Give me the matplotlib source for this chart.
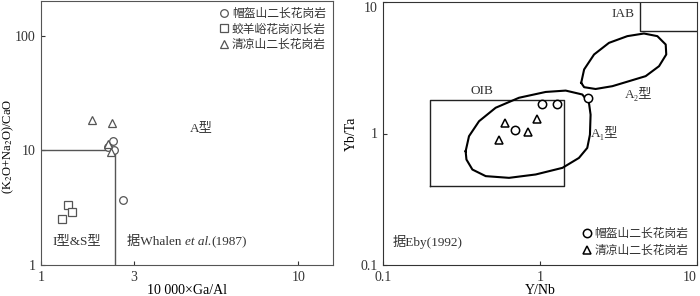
import matplotlib
matplotlib.use("Agg")
import matplotlib.pyplot as plt
from matplotlib.transforms import offset_copy

plt.rcParams['font.family'] = ['Liberation Serif', 'Noto Sans CJK SC', 'DejaVu Sans']
plt.rcParams['mathtext.fontset'] = 'stix'

# 左图: Whalen (1987) 判别图
maokui_x = [2.57, 2.47, 2.58, 2.76]
maokui_y = [12.0, 10.6, 10.0, 3.67]
jiaoyang_x = [1.85, 1.90, 1.77]
jiaoyang_y = [3.32, 2.87, 2.53]
qingliang_x = [2.21, 2.55, 2.48, 2.53]
qingliang_y = [18.5, 17.3, 11.3, 9.7]

# 右图: Eby (1992) 判别图
maokui2_x = [1.03, 1.29, 0.69, 2.03]
maokui2_y = [1.69, 1.68, 1.06, 1.87]
qingliang2_x = [0.60, 0.95, 0.84, 0.55]
qingliang2_y = [1.20, 1.28, 1.02, 0.89]

oib_x = [0.2, 1.42, 1.42, 0.2, 0.2]
oib_y = [0.40, 0.40, 1.81, 1.81, 0.40]
iab_x = [4.33, 4.33, 10.0]
iab_y = [10.0, 6.07, 6.07]

a1_x = [0.336, 0.353, 0.409, 0.522, 0.735, 1.087, 1.458, 1.86, 2.05, 2.10,
        2.08, 2.00, 1.77, 1.39, 0.939, 0.635, 0.451, 0.371, 0.340, 0.336]
a1_y = [0.733, 0.954, 1.24, 1.57, 1.87, 2.07, 2.12, 1.98, 1.71, 1.39,
        0.98, 0.777, 0.652, 0.548, 0.488, 0.460, 0.474, 0.532, 0.634, 0.733]
a2_x = [1.83, 1.91, 2.21, 2.75, 3.60, 4.59, 5.59, 6.32, 6.37, 5.73,
        4.71, 3.69, 2.89, 2.26, 1.91, 1.83]
a2_y = [2.43, 3.07, 3.99, 4.89, 5.50, 5.76, 5.50, 4.75, 3.99, 3.25,
        2.73, 2.50, 2.29, 2.18, 2.25, 2.43]

gray = '#555555'
txt = '#333333'
fig = plt.figure(figsize=(7.0, 2.96), dpi=100)

# ---- 左图 ----
ax1 = fig.add_axes([41/700, 31/296, 292/700, 264/296])
ax1.set_xscale('log')
ax1.set_yscale('log')
ax1.set_xlim(1.515, 12.9)
ax1.set_ylim(1, 200)
ax1.plot([1.515, 2.6, 2.6], [10, 10, 1], color=gray, lw=1.0)
ms = dict(ls='none', mfc='white', mec=gray, mew=0.9, ms=5.5)
ax1.plot(maokui_x, maokui_y, marker='o', label='帽盔山二长花岗岩', **ms)
ax1.plot(jiaoyang_x, jiaoyang_y, marker='s', label='蛟羊峪花岗闪长岩', **ms)
ax1.plot(qingliang_x, qingliang_y, marker='^', label='清凉山二长花岗岩', **ms)
ax1.set_xticks([1.515, 3, 10])
ax1.set_xticklabels(['1', '3', '10'])
ax1.set_yticks([1, 10, 100])
ax1.set_yticklabels(['1', '10', '100'])
ax1.minorticks_off()
ax1.set_xlabel('10 000×Ga/Al', fontsize=10, labelpad=0)
ax1.set_ylabel('(K$_2$O+Na$_2$O)/CaO', fontsize=9)
ax1.yaxis.label.set_va('center')
ax1.yaxis.set_label_coords(-0.112, 0.45)
ax1.text(0.55, 0.518, 'A型', transform=ax1.transAxes, fontsize=9.5, ha='center', va='center', color=txt)
ax1.text(0.123, 0.092, 'I型&S型', transform=ax1.transAxes, fontsize=9.5, ha='center', va='center', color=txt)

# 据Whalen et al.(1987), "et al." 用斜体
fig.canvas.draw()
t1 = ax1.text(0.296, 0.087, '据Whalen ', transform=ax1.transAxes, fontsize=9.5,
              ha='left', va='center', color=txt)
fig.canvas.draw()
w1 = t1.get_window_extent().width
t2 = ax1.text(0.296, 0.087, 'et al.', fontsize=9.5, style='italic', ha='left', va='center', color=txt,
              transform=offset_copy(ax1.transAxes, fig=fig, x=w1, y=0, units='dots'))
fig.canvas.draw()
w2 = t2.get_window_extent().width
ax1.text(0.296, 0.087, '(1987)', fontsize=9.5, ha='left', va='center', color=txt,
         transform=offset_copy(ax1.transAxes, fig=fig, x=w1 + w2, y=0, units='dots'))

leg = ax1.legend(loc='upper right', frameon=False, fontsize=8.5, handlelength=0.7,
                 handletextpad=0.3, borderaxespad=0.2, labelspacing=0.3)
for t in leg.get_texts():
    t.set_color(txt)
for sp in ax1.spines.values():
    sp.set_color(gray)
ax1.tick_params(direction='in', length=3, colors=txt, labelsize=10, pad=4)

# ---- 右图 ----
ax2 = fig.add_axes([383/700, 31/296, 314/700, 263/296])
ax2.set_xscale('log')
ax2.set_yscale('log')
ax2.set_xlim(0.1, 10)
ax2.set_ylim(0.1, 10)
ax2.plot(oib_x, oib_y, color='#222222', lw=1.0)
ax2.plot(iab_x, iab_y, color='#222222', lw=1.0)
ax2.plot(a1_x, a1_y, color='black', lw=1.5)
ax2.plot(a2_x, a2_y, color='black', lw=1.5)
ms2 = dict(ls='none', mfc='white', mec='black', mew=1.1, ms=6)
ax2.plot(maokui2_x, maokui2_y, marker='o', label='帽盔山二长花岗岩', **ms2)
ax2.plot(qingliang2_x, qingliang2_y, marker='^', label='清凉山二长花岗岩', **ms2)
ax2.set_xticks([0.1, 1, 10])
ax2.set_xticklabels(['0.1', '1', '10'])
ax2.set_yticks([0.1, 1, 10])
ax2.set_yticklabels(['0.1', '1', '10'])
ax2.minorticks_off()
ax2.get_xticklabels()[-1].set_ha('right')
ax2.get_yticklabels()[-1].set_va('top')
ax2.set_xlabel('Y/Nb', fontsize=10, labelpad=0)
ax2.set_ylabel('Yb/Ta', fontsize=10, labelpad=2)
ax2.text(0.314, 0.663, 'OIB', transform=ax2.transAxes, fontsize=9.5, ha='center', va='center', color=txt)
ax2.text(0.764, 0.954, 'IAB', transform=ax2.transAxes, fontsize=9.5, ha='center', va='center', color=txt)
ax2.text(0.813, 0.649, 'A₂型', transform=ax2.transAxes, fontsize=9.5, ha='center', va='center', color=txt)
ax2.text(0.707, 0.50, 'A₁型', transform=ax2.transAxes, fontsize=9.5, ha='center', va='center', color=txt)
ax2.text(0.143, 0.087, '据Eby(1992)', transform=ax2.transAxes, fontsize=9.5, ha='center', va='center', color=txt)
leg2 = ax2.legend(loc='lower right', frameon=False, fontsize=8.5, handlelength=0.7,
                  handletextpad=0.3, borderaxespad=0.3, labelspacing=0.4)
for t in leg2.get_texts():
    t.set_color(txt)
for sp in ax2.spines.values():
    sp.set_color(txt)
ax2.tick_params(direction='in', length=3, colors=txt, labelsize=10, pad=4)

fig.savefig('out.png', dpi=100)
